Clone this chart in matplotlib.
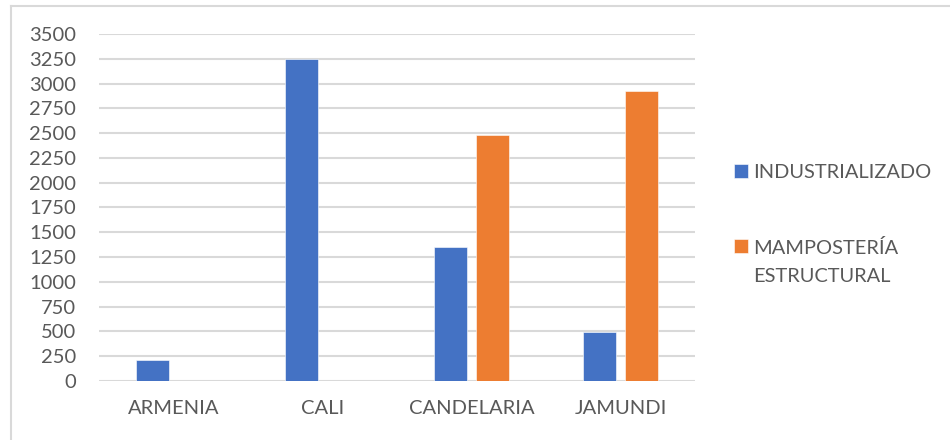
import numpy as np
import matplotlib
matplotlib.use('Agg')
import matplotlib.pyplot as plt
from matplotlib.lines import Line2D

# datos
ciudades = ['ARMENIA', 'CALI', 'CANDELARIA', 'JAMUNDI']
industrializado = [215, 3250, 1355, 495]
mamposteria = [0, 0, 2480, 2930]
series = ['INDUSTRIALIZADO', 'MAMPOSTERÍA\nESTRUCTURAL']
yticks = list(range(0, 3501, 250))

azul = '#4472C4'
naranja = '#ED7D31'
gris_txt = '#595959'
gris_lin = '#D9D9D9'

plt.rcParams['font.family'] = ['Lato', 'DejaVu Sans']

fig = plt.figure(figsize=(9.5, 4.4), dpi=100)
ax = fig.add_axes([99/950, 59/440, 596/950, 347/440])

x = np.arange(len(ciudades))
ancho = 0.22
desp = 0.141
b1 = ax.bar(x - desp, industrializado, ancho, color=azul, edgecolor='white', linewidth=0.4, zorder=3, label=series[0])
b2 = ax.bar(x + desp, mamposteria, ancho, color=naranja, edgecolor='white', linewidth=0.4, zorder=3, label=series[1])

ax.set_xlim(-0.5, len(ciudades) - 0.5)
ax.set_ylim(0, 3500)
ax.set_yticks(yticks)
ax.set_xticks(x)
ax.set_xticklabels(ciudades)
ax.yaxis.grid(True, color=gris_lin, linewidth=1.5, zorder=0)
ax.set_axisbelow(True)
for s in ax.spines.values():
    s.set_visible(False)
ax.tick_params(axis='both', length=0, labelsize=14.5, labelcolor=gris_txt)
ax.tick_params(axis='y', pad=16.5)
ax.tick_params(axis='x', pad=14)

# leyenda a la derecha
leg = fig.legend(handles=[b1, b2], labels=series, loc='upper left',
                 bbox_to_anchor=(734/950, 1 - 164/440), frameon=False,
                 fontsize=14.4, labelcolor=gris_txt, handlelength=0.68,
                 handleheight=0.68, handletextpad=0.3, labelspacing=2.9,
                 borderpad=0, borderaxespad=0)
for t in leg.get_texts():
    t.set_linespacing(1.75)
# cuadro alineado con la primera linea del texto
for col in leg._legend_handle_box.get_children():
    for fila in col.get_children():
        fila.align = 'top'

# borde del grafico (solo izquierda y arriba visibles)
fig.add_artist(Line2D([11/950, 11/950], [0, 1 - 6/440], color=gris_lin, linewidth=1.5))
fig.add_artist(Line2D([11/950, 1], [1 - 6/440, 1 - 6/440], color=gris_lin, linewidth=1.5))

fig.savefig('out.png', dpi=100)
